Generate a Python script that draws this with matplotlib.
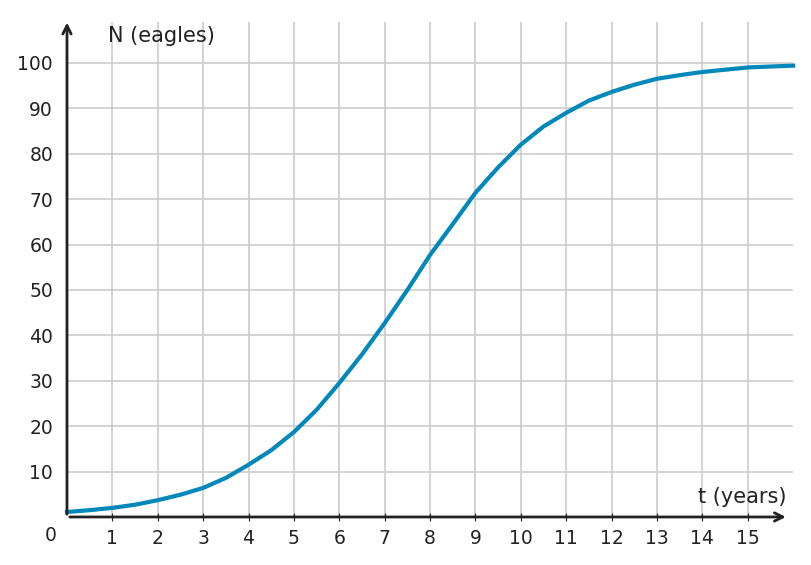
import matplotlib
matplotlib.use("Agg")
import matplotlib.pyplot as plt

t_years = [0, 0.5, 1, 1.5, 2, 2.5, 3, 3.5, 4, 4.5, 5, 5.5, 6, 6.5, 7, 7.5, 8, 8.5,
           9, 9.5, 10, 10.5, 11, 11.5, 12, 12.5, 13, 13.5, 14, 14.5, 15, 15.5, 16]
n_eagles = [1.1, 1.5, 2.0, 2.7, 3.7, 4.9, 6.4, 8.6, 11.5, 14.7, 18.7, 23.6, 29.5, 35.8,
            42.7, 50.0, 57.7, 64.5, 71.4, 77.0, 82.0, 86.0, 89.0, 91.7, 93.6, 95.2,
            96.5, 97.3, 98.0, 98.5, 99.0, 99.2, 99.4]
x_ticks = list(range(1, 16))
y_ticks = list(range(10, 101, 10))

fig = plt.figure(figsize=(8.11, 5.65), dpi=100)
ax = fig.add_axes([0.0826, 0.085, 0.978 - 0.0826, 0.961 - 0.085])
ax.set_xlim(0, 16)
ax.set_ylim(0, 109)
for s in ax.spines.values():
    s.set_visible(False)
ax.set_xticks(x_ticks)
ax.set_yticks(y_ticks)
ax.grid(True, color="#cccccc", linewidth=1.2)
ax.set_axisbelow(True)
ax.tick_params(axis="x", direction="inout", length=6, color="#222222", labelsize=13.5, labelcolor="#222222", pad=6)
ax.tick_params(axis="y", length=0, labelsize=13.5, labelcolor="#222222", pad=10)

ax.plot(t_years, n_eagles, color="#0088bb", linewidth=3, clip_on=False, zorder=3)

ax.annotate("", xy=(15.9, 0), xytext=(0, 0),
            arrowprops=dict(arrowstyle="->", color="#222222", lw=2, mutation_scale=15), annotation_clip=False)
ax.annotate("", xy=(0, 109.5), xytext=(0, 0),
            arrowprops=dict(arrowstyle="->", color="#222222", lw=2, mutation_scale=15), annotation_clip=False)
ax.text(-0.37, -4, "0", fontsize=13.5, color="#222222", ha="center", va="center")
ax.text(0.9, 106, "N (eagles)", fontsize=15, color="#222222", ha="left", va="center")
ax.text(15.85, 4.5, "t (years)", fontsize=15, color="#222222", ha="right", va="center")

fig.savefig("out.png", dpi=100)
